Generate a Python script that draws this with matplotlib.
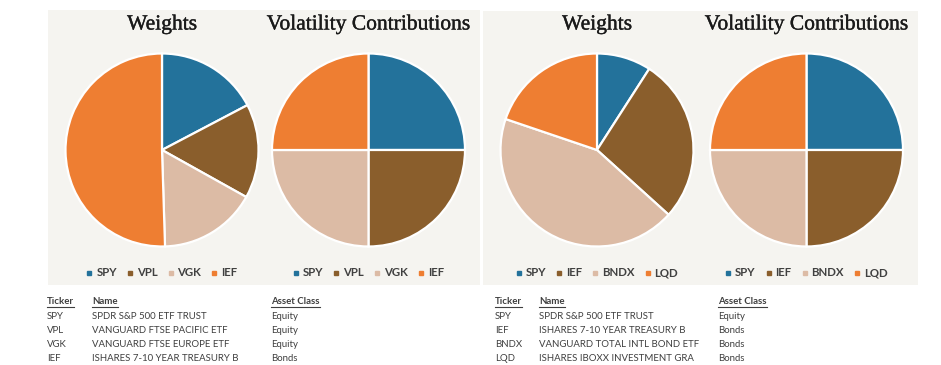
import matplotlib
matplotlib.use("Agg")
import matplotlib.pyplot as plt
from matplotlib.patches import Rectangle
from matplotlib.lines import Line2D
import matplotlib.patheffects as pe

W, H = 941, 365
DPI = 100

colors = ["#23729b", "#8a5e2c", "#dcbba5", "#ee7e32"]
bg = "#f5f4f0"

tickers_1 = ["SPY", "VPL", "VGK", "IEF"]
weights_1 = [17.3, 15.8, 16.4, 50.5]
volcontrib_1 = [25, 25, 25, 25]
names_1 = ["SPDR S&P 500 ETF TRUST", "VANGUARD FTSE PACIFIC ETF",
           "VANGUARD FTSE EUROPE ETF", "ISHARES 7-10 YEAR TREASURY B"]
classes_1 = ["Equity", "Equity", "Equity", "Bonds"]

tickers_2 = ["SPY", "IEF", "BNDX", "LQD"]
weights_2 = [9.1, 27.6, 43.5, 19.8]
volcontrib_2 = [25, 25, 25, 25]
names_2 = ["SPDR S&P 500 ETF TRUST", "ISHARES 7-10 YEAR TREASURY B",
           "VANGUARD TOTAL INTL BOND ETF", "ISHARES IBOXX INVESTMENT GRA"]
classes_2 = ["Equity", "Bonds", "Bonds", "Bonds"]

titles = ["Weights", "Volatility Contributions"]

fig = plt.figure(figsize=(W / DPI, H / DPI), dpi=DPI)
fig.patch.set_facecolor("white")

def fx(px):
    return px / W

def fy(py):
    return 1 - py / H

# panel backgrounds (pixel coords: left, top, right, bottom)
for (l, t, r, b) in [(48, 10, 480, 285), (483, 11, 918, 285)]:
    fig.patches.append(Rectangle((fx(l), fy(b)), fx(r - l), (b - t) / H,
                                 transform=fig.transFigure, facecolor=bg,
                                 edgecolor="none", zorder=-5))

R = 96.5
pies = [
    (162, 150, weights_1, tickers_1, titles[0]),
    (368.5, 150, volcontrib_1, tickers_1, titles[1]),
    (597, 150, weights_2, tickers_2, titles[0]),
    (806.5, 150, volcontrib_2, tickers_2, titles[1]),
]

for cx, cy, vals, labs, title in pies:
    ax = fig.add_axes([fx(cx - R), fy(cy + R), fx(2 * R), 2 * R / H])
    ax.set_zorder(2)
    ax.pie(vals, colors=colors, startangle=90, counterclock=False,
           wedgeprops=dict(edgecolor="white", linewidth=1.6))
    ax.set_xlim(-1.0, 1.0)
    ax.set_ylim(-1.0, 1.0)
    ax.set_aspect("equal")
    ax.axis("off")
    fig.text(fx(cx), fy(25), title, ha="center", va="center",
             fontsize=15.5, family="Liberation Serif", color="#1a1a1a",
             path_effects=[pe.withStroke(linewidth=0.25, foreground="#1a1a1a")])
    handles = [Line2D([], [], marker="s", linestyle="none", markersize=3.5,
                      markerfacecolor=c, markeredgecolor=c) for c in colors]
    fig.legend(handles, labs, loc="center", bbox_to_anchor=(fx(cx), fy(273)),
               ncol=4, frameon=False, handlelength=0.5,
               handletextpad=0.35, columnspacing=0.9,
               prop=dict(family="Lato", weight="bold", size=8.2),
               labelcolor="#404040")

# tables
fig.canvas.draw()
renderer = fig.canvas.get_renderer()

FS = 6.9

def table(x0, x1, x2, tickers, names, classes):
    tcol = "#3f3f3f"
    rows_y = [302, 316.5, 330.5, 344.5, 358.5]
    heads = ["Ticker", "Name", "Asset Class"]
    for hx, h in zip([x0, x1, x2], heads):
        t = fig.text(fx(hx), fy(rows_y[0]), h, ha="left", va="center",
                     fontsize=FS, family="Lato", weight="bold", color=tcol)
        bb = t.get_window_extent(renderer)
        yline = fy(rows_y[0] + 5.0)
        fig.add_artist(Line2D([bb.x0 / W, bb.x1 / W], [yline, yline],
                              transform=fig.transFigure, color=tcol, lw=0.8))
    for i, (tk, nm, cl) in enumerate(zip(tickers, names, classes)):
        y = fy(rows_y[i + 1])
        fig.text(fx(x0), y, tk, ha="left", va="center", fontsize=FS,
                 family="Lato", color=tcol)
        fig.text(fx(x1), y, nm, ha="left", va="center", fontsize=FS,
                 family="Lato", color=tcol)
        fig.text(fx(x2), y, cl, ha="left", va="center", fontsize=FS,
                 family="Lato", color=tcol)

table(47, 92, 271, tickers_1, names_1, classes_1)
table(495, 539, 718, tickers_2, names_2, classes_2)

fig.savefig("out.png", dpi=DPI)
